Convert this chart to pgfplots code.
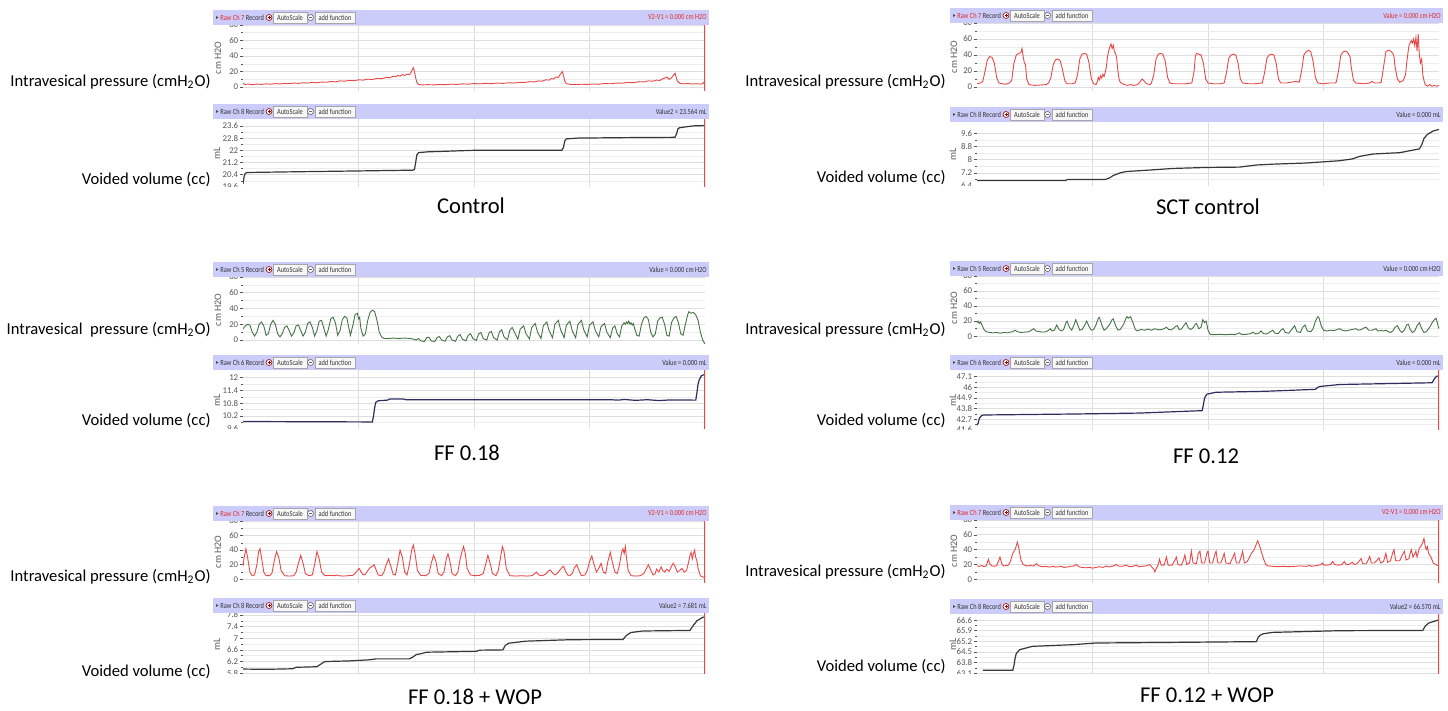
\documentclass[border=0pt]{standalone}
\usepackage{fontspec}
\setmainfont{Carlito}
\usepackage{graphicx}
\usepackage{pgfplots}
\pgfplotsset{compat=1.18}

\definecolor{hdrbg}{RGB}{204,204,250}
\definecolor{pred}{RGB}{232,72,72}
\definecolor{chred}{RGB}{225,40,40}
\definecolor{pgreen}{RGB}{70,115,70}
\definecolor{vdark}{RGB}{55,55,55}
\definecolor{vnavy}{RGB}{45,45,95}
\definecolor{gridc}{RGB}{222,222,222}
\definecolor{tickc}{RGB}{85,85,85}

\newcommand\hf{\fontsize{3.9}{4.2}\selectfont}
\newcommand\hs[1]{\scalebox{0.82}[1]{#1}}
\newcommand\lf{\fontsize{8.3}{10}\selectfont}
\newcommand\cf{\fontsize{11.3}{13}\selectfont}

\pgfplotsset{
  trace/.style={
    scale only axis, width=231pt,
    xmin=0, xmax=400, xtick={100,200,300}, xticklabels={},
    axis line style={draw=none},
    xmajorgrids=true, ymajorgrids=true, yminorgrids=true,
    minor y tick num=1,
    major grid style={draw=gridc, line width=0.35pt},
    minor grid style={draw=gridc!55, line width=0.3pt},
    xtick style={draw=none},
    ytick style={draw=tickc, line width=0.3pt},
    tick align=outside, tick pos=left,
    major tick length=1.6pt, minor tick length=0.8pt,
    yticklabel style={font=\fontsize{4.4}{5}\selectfont, text=tickc, inner sep=0.6pt},
    /pgf/number format/assume math mode=true,
    scaled y ticks=false,
  },
  pres/.style={trace, ymin=-5, ymax=80, ytick={0,20,40,60,80}},
  ptrace/.style={line width=0.45pt, mark=none},
  vtrace/.style={line width=0.6pt, mark=none},
  cursor/.style={draw=pred, line width=0.6pt, mark=none},
}

% header bar: x0, top, x1, channel colour, channel text, right text, right colour
\newcommand{\hdr}[7]{%
  \fill[hdrbg] (#1,#2) rectangle (#3,#2+15);
  \fill[black!70] (#1+3,#2+6) -- (#1+5.5,#2+7.5) -- (#1+3,#2+9) -- cycle;
  \node[font=\hf, anchor=west, inner sep=0, text=black!80] at (#1+7,#2+7.5) {\hs{\textcolor{#4}{#5} Record}};
  \draw[red!60!black, line width=0.3pt, fill=white] (#1+56,#2+7.5) circle (1.5pt);
  \draw[red!60!black, line width=0.3pt] (#1+54.5,#2+7.5) -- (#1+57.5,#2+7.5) (#1+56,#2+6) -- (#1+56,#2+9);
  \draw[gray!70, line width=0.3pt, fill=gray!6] (#1+60,#2+2) rectangle (#1+94,#2+13.5);
  \node[font=\hf, inner sep=0, text=black!80] at (#1+77,#2+7.7) {\hs{AutoScale}};
  \draw[black!60, line width=0.3pt, fill=white] (#1+97.5,#2+7.5) circle (1.5pt);
  \draw[black!60, line width=0.3pt] (#1+96,#2+7.5) -- (#1+99,#2+7.5);
  \draw[gray!70, line width=0.3pt, fill=gray!6] (#1+102,#2+2) rectangle (#1+142,#2+13.5);
  \node[font=\hf, inner sep=0, text=black!80] at (#1+122,#2+7.7) {\hs{add function}};
  \node[font=\hf, anchor=east, inner sep=0, text=#7] at (#3-2,#2+7.5) {\hs{#6}};
}

\begin{document}
\begin{tikzpicture}
\path (0,0) rectangle (724pt,355.5pt);

% ---------------- Control ----------------
\begin{axis}[pres, at={(121.5pt,310pt)}, height=33pt]
\addplot[pred, ptrace] coordinates {
(0,5)(1,4)(2,3.5)(5,3.8)(8,3.2)(12,3.9)(16,3.5)(20,4.2)(24,3.8)(28,4.5)(32,4.1)(36,4.8)(40,4.4)(44,5.2)(48,4.8)(52,5.6)(56,5.2)(60,6)(64,5.6)(68,6.5)(72,6.2)(76,7.2)(80,6.8)(84,8)(88,7.6)(92,8.6)(96,8.2)(100,9.4)(104,9)(108,10.2)(112,9.8)(116,11.2)(120,10.8)(124,12.5)(127,12)(130,14)(132,13.2)(134,15)(136,14.2)(138,16)(140,15)(142,16.8)(144,16)(145.5,19)(146.5,22)(147.5,25)(148.5,20)(149.5,12)(150.5,6)(152,3.5)(155,2.8)(160,3.2)(165,2.9)(170,3.4)(175,3.1)(180,3.8)(185,3.4)(190,4.2)(195,3.8)(200,4.6)(205,4.2)(210,4.8)(215,4.4)(220,5.2)(225,4.8)(230,5.6)(235,5.3)(240,6.2)(244,5.9)(248,7)(252,6.6)(256,8)(259,7.6)(262,9.4)(265,9)(267,11)(269,10.4)(271,13)(273,12.4)(274.5,16)(275.5,18)(276.5,20)(277.5,15)(278.5,8)(280,4.5)(283,3.6)(288,3.2)(293,3.7)(298,3.4)(303,4)(308,3.8)(313,4.6)(318,4.3)(323,5.2)(328,5)(333,6)(338,5.7)(343,7)(347,6.6)(351,8)(355,7.6)(358,9)(361,8.6)(363,10.5)(365,11.5)(367,13)(369,10)(371,12)(372.5,15)(374,18)(375,13)(376,8)(378,5)(381,4.2)(385,4.6)(389,4)(393,4.4)(396,3.8)(398,4.5)(399,6)(400,3)
};
\addplot[cursor] coordinates {(400,-5)(400,80)};
\end{axis}

\begin{axis}[trace, at={(121.5pt,262pt)}, height=34pt, ymin=19.6, ymax=24.05,
  ytick={19.6,20.4,21.2,22,22.8,23.6}]
\addplot[vdark, vtrace] coordinates {
(0,19.8)(1,20.3)(2,20.5)(4,20.55)(50,20.6)(100,20.65)(147,20.7)(148.5,20.75)(149.5,21.2)(150.5,21.7)(152,21.85)(160,21.9)(180,21.95)(200,22.0)(276,22.0)(277.5,22.2)(278.5,22.6)(280,22.75)(290,22.8)(330,22.83)(374,22.85)(375.5,23.1)(376.5,23.4)(378,23.48)(385,23.55)(390,23.6)(400,23.62)
};
\addplot[cursor] coordinates {(400,19.6)(400,24.05)};
\end{axis}

% ---------------- SCT control ----------------
\begin{axis}[pres, at={(488.5pt,310pt)}, height=34pt]
\addplot[pred, ptrace] coordinates {
(0,4)(3,5)(5,7)(7,20)(9,34)(11,38)(13,37)(15,30)(17,12)(19,5)(22,4)(25,3.5)(28,5)(30,8)(32,30)(34,40)(36,42)(38,43)(39,48)(40,38)(41,30)(42,28)(43,10)(45,3)(50,2)(55,2.5)(60,3)(62,5)(64,12)(66,28)(68,34)(70,35)(72,33)(74,22)(76,8)(78,4)(82,4)(85,5)(87,15)(89,35)(91,41)(93,42)(95,41)(97,30)(99,10)(101,4)(103,3)(104,6)(105,12)(106,9)(107,14)(108,11)(109,16)(110,13)(111,18)(112,25)(113,38)(114,45)(115,50)(116,54)(117,48)(118,52)(119,44)(120,42)(121,35)(122,20)(123,10)(124,6)(126,4)(128,3)(130,2)(133,3)(136,2)(139,3)(141,6)(143,10)(145,7)(147,4)(150,3)(151,5)(153,15)(155,35)(157,41)(159,42)(161,41)(163,32)(165,12)(167,5)(170,4)(175,4)(180,4)(186,5)(188,20)(189,38)(190,42)(192,41)(194,40)(196,30)(198,10)(200,5)(205,4)(210,4)(214,5)(216,18)(218,36)(220,40)(222,41)(224,40)(226,30)(228,10)(230,5)(235,4)(240,4)(247,5)(249,18)(251,36)(253,40)(255,41)(257,40)(259,30)(261,10)(263,5)(268,5)(272,6)(276,7)(279,6)(281,20)(283,40)(285,44)(287,46)(289,44)(291,32)(293,12)(295,5)(300,4)(305,5)(310,5)(311,6)(313,20)(315,40)(317,44)(319,45)(321,43)(323,38)(324,25)(326,8)(328,5)(335,4)(340,5)(342,7)(344,5)(348,5)(350,6)(352,25)(354,44)(356,46)(358,45)(360,42)(361,38)(362,25)(364,10)(366,6)(369,8)(371,15)(372,30)(374,52)(376,58)(377,55)(378,60)(379,52)(380,62)(381,45)(382,66)(383,40)(384,30)(385,35)(386,15)(387,8)(388,3)(390,1)(392,3)(394,1)(396,2)(398,1)(400,2)
};
\end{axis}

\begin{axis}[trace, at={(488.5pt,262.5pt)}, height=32pt, ymin=6.4, ymax=10.3,
  ytick={6.4,7.2,8,8.8,9.6}]
\addplot[vdark, vtrace] coordinates {
(0,6.73)(77,6.73)(78,6.79)(110,6.79)(112,6.82)(115,6.9)(118,7.04)(124,7.2)(129,7.28)(147,7.36)(170,7.47)(199,7.53)(227,7.55)(242,7.68)(256,7.73)(285,7.8)(314,7.94)(325,8.05)(331,8.2)(343,8.35)(366,8.43)(383,8.66)(385,8.9)(387,9.3)(390,9.55)(395,9.75)(400,9.85)
};
\end{axis}

% ---------------- FF 0.18 ----------------
\begin{axis}[pres, at={(121.5pt,183.5pt)}, height=33.5pt]
\addplot[pgreen, ptrace] coordinates {
(0,14)(2,18)(4,20)(6,19)(8,10)(10,5)(12,10)(14,20)(16,23)(18,18)(20,6)(22,8)(24,20)(26,25)(28,20)(30,8)(32,4)(34,8)(36,16)(38,18)(40,12)(42,5)(44,9)(46,18)(48,19)(50,12)(52,5)(54,10)(56,21)(58,23)(60,16)(62,5)(64,12)(66,24)(68,25)(70,15)(72,5)(74,14)(76,27)(78,29)(80,22)(82,6)(84,12)(86,26)(88,30)(90,28)(91,20)(93,6)(95,18)(97,32)(99,34)(100,27)(101,29)(102,15)(104,5)(106,8)(108,25)(110,35)(112,38)(114,36)(116,25)(118,10)(120,4)(122,2)(126,2)(130,2.5)(135,2)(140,2.5)(145,2)(148,1)
(150,0)(152,2)(154,-1)(157,-2)(159,3)(161,3.5)(163,-1)(166,-2)(168,3)(170,4.5)(172,0)(175,-1.5)(177,4)(179,5.5)(181,0)(184,-1.5)(186,5)(188,7)(190,1)(193,-1)(195,6)(197,8)(199,2)(202,-0.5)(204,8)(206,9.5)(208,2)(211,0)(213,9)(215,11)(217,3)(220,0)(222,10)(224,13)(226,4)(229,0.5)(231,12)(233,16)(235,10)(238,1)(240,14)(243,18)(245,8)(248,1.5)(250,16)(253,21)(255,10)(258,2)(260,18)(263,23)(265,12)(268,3)(270,20)(273,25)(275,13)(278,3)(280,19)(283,24)(285,12)(288,3)(290,20)(293,25)(295,13)(298,4)(300,19)(303,23)(305,12)(308,4)(310,17)(313,21)(315,10)(318,3)(320,15)(322,18)(324,8)(326,4)(328,18)(330,22)(331,20)(332,23)(333,21)(334,24)(335,20)(336,22)(337,19)(338,21)(339,15)(341,6)(343,5)(345,20)(347,28)(349,30)(351,26)(353,10)(355,4)(357,8)(359,24)(361,28)(363,29)(365,20)(367,6)(369,5)(371,22)(373,28)(375,30)(377,22)(379,8)(381,6)(383,20)(385,32)(386,36)(388,34)(390,35)(392,32)(394,25)(396,10)(398,0)(400,-5)
};
\end{axis}

\begin{axis}[trace, at={(121.5pt,141pt)}, height=29.5pt, ymin=9.6, ymax=12.36,
  ytick={9.6,10.2,10.8,11.4,12}]
\addplot[vnavy, vtrace] coordinates {
(0,9.95)(112,9.93)(113,10.2)(114,10.6)(115,10.85)(117,10.92)(125,10.95)(127,11.0)(139,11.0)(141,10.97)(200,10.97)(318,10.97)(325,10.95)(330,10.98)(340,10.94)(350,10.97)(360,10.93)(370,10.96)(392,10.95)(393,11.3)(394,11.7)(395,11.9)(397,12.1)(400,12.15)
};
\addplot[cursor] coordinates {(400,9.6)(400,12.36)};
\end{axis}

% ---------------- FF 0.12 ----------------
\begin{axis}[pres, at={(488.5pt,185.5pt)}, height=32pt]
\addplot[pgreen, ptrace] coordinates {
(0,18)(1,20)(2,17)(3,19)(4,16)(6,9)(8,6)(11,5)(14,4.5)(17,5)(20,4)(23,5)(26,4.5)(29,5.5)(31,6)(33,8)(35,6)(38,5)(42,5.5)(45,6)(47,8)(49,10)(51,7)(54,6)(57,5.5)(60,6)(62,8)(63.5,10)(65,7)(67,8)(69,15)(71,9)(73,7)(75,9)(77,18)(78,20)(80,12)(82,8)(84,15)(85.5,22)(87,16)(89,8)(91,9)(93,14)(95,20)(97,13)(99,8)(101,9)(103,15)(105,24)(106,25)(108,15)(110,8)(112,10)(115,16)(117,22)(118,23)(120,14)(122,8)(124,9)(127,16)(129,24)(130,26)(131,24)(133,26)(135,18)(137,9)(139,7)(142,9)(145,8)(148,9.5)(151,8)(154,10)(157,8.5)(160,9)(162,10)(164,12)(166,9)(168,8.5)(170,10)(172,13)(173.5,14)(175,9)(177,9.5)(179,14)(181,18)(183,11)(185,9)(187,11)(189,16)(190,17)(192,10)(194,12)(195.5,22)(197,18)(198.5,20)(200,8)(202,2.5)(205,2)(210,2.5)(215,2)(220,2.5)(223,2)(225,3)(227,4.5)(229,2.5)(233,2.5)(237,3.5)(239,5.5)(241,3)(244,4)(246,7)(248,3.5)(251,3)(254,6)(256,8)(258,4)(261,3.5)(263,8)(265,10)(267,5)(270,4)(273,10)(275,14)(277,6)(280,5)(282,12)(284,15)(286,7)(289,6)(291,10)(293,20)(295,26)(296,25)(298,14)(300,8)(303,7)(306,8)(309,7.5)(312,9)(314,10)(316,8)(319,7)(322,8)(325,9)(328,10)(330,8)(333,9)(335,11)(337,12)(339,8)(342,8)(344,9)(345.5,10)(347,7)(350,7.5)(352,7)(354,8)(356,6)(358,5)(360,7)(362,12)(364,14)(366,8)(368,5)(370,8)(372,15)(373.5,16)(375,9)(377,5)(379,7)(381,14)(383,18)(385,10)(387,5)(389,6)(392,12)(394,18)(396,22)(397.5,24)(399,15)(400,10)
};
\end{axis}

\begin{axis}[trace, at={(488.5pt,140.5pt)}, height=30pt, ymin=41.6, ymax=47.8,
  ytick={41.6,42.7,43.8,44.9,46,47.1}]
\addplot[vnavy, vtrace] coordinates {
(0,42.1)(1,42.3)(2,42.8)(4,43.1)(6,43.15)(83,43.25)(141,43.35)(195,43.6)(196,44.2)(197,44.9)(199,45.3)(207,45.5)(250,45.6)(293,45.8)(295,46.0)(297,46.1)(314,46.3)(394,46.48)(396,46.9)(398,47.15)(400,47.2)
};
\addplot[cursor] coordinates {(400,41.6)(400,47.8)};
\end{axis}

% ---------------- FF 0.18 + WOP ----------------
\begin{axis}[pres, at={(121.5pt,64pt)}, height=31pt]
\addplot[pred, ptrace] coordinates {
(0,18)(1,30)(2.5,42)(4,30)(6,10)(8,5)(10,6)(12,20)(13.5,38)(14.7,42)(16,30)(18,10)(20,5)(23,5)(25,8)(27,25)(29,38)(31,30)(33,12)(36,5)(40,4.5)(44,5)(46,10)(48,22)(50,33)(52,22)(54,8)(57,5)(60,6)(62,20)(64,38)(66,28)(68,10)(71,5)(75,5.5)(79,5)(81,6)(83,5)(87,4.5)(91,5)(95,5.5)(97,8)(99,12)(100.5,15)(102,11)(104,6)(106,7)(108,12)(110,16)(112,18)(113.5,20)(115,14)(117,6)(120,5)(122,10)(124,20)(126,28)(128,18)(130,7)(132,6)(134,22)(136,40)(138,30)(140,10)(142,6)(144,20)(146,40)(147.5,47)(149,35)(151,12)(154,5.5)(158,5)(161,8)(163,22)(165,33)(167,25)(169,8)(172,5)(174,10)(176,28)(177.5,35)(179,26)(181,8)(184,5)(186,10)(188,28)(190,40)(191,45)(192.5,35)(194,15)(197,6)(201,5)(205,5.5)(208,8)(210,20)(212,33)(214,22)(216,8)(219,5)(221,12)(223,30)(224.5,45)(226,38)(228,15)(231,5)(236,4.5)(241,5)(246,4.5)(250,5)(252,7)(254,10)(256,6)(259,5)(262,7)(264,11)(266,13)(268,9)(270,6)(272,8)(274,12)(276,16)(277.5,18)(279,12)(281,6)(283,5)(285,8)(287,16)(289,20)(291,12)(293,5)(296,6)(298,12)(300,24)(302,32)(304,20)(306,10)(308,15)(310,22)(312,10)(314,8)(316,25)(318,37)(320,22)(322,10)(324,8)(326,20)(327,30)(328,38)(329,42)(330,35)(331,45)(332,30)(333.5,12)(336,5)(340,4.5)(344,5)(347,8)(349,14)(351,20)(353,13)(355,6)(357,8)(358,14)(360,10)(362,17)(363.5,12)(365,10)(367,14)(369,11)(371,18)(372.5,22)(374,18)(376,10)(378,12)(380,15)(382,10)(384,12)(386,25)(387,33)(388,37)(389,28)(390,35)(391,40)(392,30)(393,25)(394,15)(396,5)(398.5,3)(400,3)
};
\addplot[cursor] coordinates {(400,-5)(400,80)};
\end{axis}

\begin{axis}[trace, at={(121.5pt,18.5pt)}, height=30.5pt, ymin=5.77, ymax=7.87,
  ytick={5.8,6.2,6.6,7,7.4,7.8}]
\addplot[vdark, vtrace] coordinates {
(0,5.94)(20,5.93)(43,5.95)(46,6.0)(64,6.02)(67,6.1)(70,6.18)(72,6.2)(92,6.22)(110,6.26)(115,6.29)(144,6.29)(147,6.35)(150,6.44)(153,6.46)(159,6.52)(202,6.55)(205,6.59)(225,6.6)(227,6.75)(230,6.83)(245,6.9)(283,6.95)(329,6.96)(332,7.1)(336,7.2)(346,7.25)(387,7.27)(390,7.45)(393,7.6)(398,7.72)(400,7.74)
};
\addplot[cursor] coordinates {(400,5.77)(400,7.87)};
\end{axis}

% ---------------- FF 0.12 + WOP ----------------
\begin{axis}[pres, at={(488.5pt,64pt)}, height=31.5pt]
\addplot[pred, ptrace] coordinates {
(0,18)(2,17.5)(4,18.5)(6,17)(8,18)(9,23)(9.8,27)(11,21)(13,18)(15,17.5)(17,18.5)(18.5,24)(19.9,30)(21.5,21)(23,18)(25,18.5)(27,19)(29,24)(30,30)(31,35)(32,38)(33,40)(34,45)(35,50)(36,44)(37,35)(38,26)(40,20)(43,18)(46,18.5)(49,18)(50.5,20)(51.6,21)(53,18.5)(56,17)(59,17.5)(62,16.5)(65,17)(66,17.5)(68,16.5)(71,17)(73,17.5)(75,16)(78,16.5)(81,17.5)(84,18)(86,20)(88,17)(91,16)(94,15.5)(97.7,16)(100,15)(103,16)(106,17)(109,16)(112,18)(114,16.5)(117,17.5)(119,18.5)(120.7,20)(122,18)(125,17.5)(127,18)(129,19)(131,17.5)(134,17)(136,18)(138,19)(140,17)(143,17.5)(146,18)(148,19)(149.6,20)(151,17)(153,14)(154,10)(155,14)(156.5,18)(158,27)(159.5,19)(162,19)(164,30)(165.5,19)(169,19)(171,25)(172.6,30)(174,20)(177,19)(179,27)(180,33)(181.5,20)(184,22)(185.6,38)(187,22)(190,21)(191.5,34)(193,38)(194.5,22)(197,22)(199,35)(200,38)(201.5,22)(204,22)(206,34)(207,38)(208.5,22)(211,22)(213,30)(214,35)(215.5,22)(219,21)(221,28)(223,35)(224.5,22)(227,22)(229,32)(230,38)(231.5,22)(234,24)(236,30)(238,36)(240,40)(241.5,46)(243,52)(244.5,46)(246,38)(248,28)(250,20)(252,18)(256,17.5)(260,17)(265,17.5)(270,17)(275,17.5)(280,18)(285,17.5)(287,18)(288,19)(289.5,17.5)(292,18)(296,19)(298,20)(299,22)(300.5,19)(303,19)(306,20)(308,24)(309.5,20)(313,19)(316,20)(318,24)(319.5,20)(322,20)(324,22)(325,23)(326.5,20)(329,21)(331,25)(332.6,28)(334,21)(337,21)(339,27)(340,31)(341.5,22)(344,22)(346,25)(348,29)(349.5,22)(352,24)(354,35)(355.5,23)(358,25)(360,36)(361,40)(362.5,25)(366,25)(368,32)(370,38)(371.5,26)(374,28)(375,35)(376,40)(377.5,30)(379,34)(380,38)(381,30)(383,42)(384.5,45)(386,50)(387,55)(388,45)(389,40)(390,44)(391,35)(393,30)(395,22)(397,20)(400,18)
};
\addplot[cursor] coordinates {(400,-5)(400,80)};
\end{axis}

\begin{axis}[trace, at={(488.5pt,18.5pt)}, height=30pt, ymin=63.05, ymax=67.0,
  ytick={63.1,63.8,64.5,65.2,65.9,66.6}]
\addplot[vdark, vtrace] coordinates {
(5,63.3)(31,63.3)(32,63.6)(33,64.1)(34,64.4)(37,64.65)(48,64.87)(83,64.98)(103,65.09)(170,65.13)(242,65.18)(243,65.4)(245,65.6)(248,65.7)(256,65.79)(314,65.9)(386,65.92)(388,66.2)(391,66.4)(395,66.5)(400,66.62)
};
\addplot[cursor] coordinates {(400,63.05)(400,67.0)};
\end{axis}

% ---------------- headers, labels, captions (pixel grid) ----------------
\begin{scope}[x=0.5pt, y=-0.5pt, shift={(0pt,355.5pt)}]
  % cut the lowest volume tick labels as in the screenshots
  \fill[white] (213,187) rectangle (709,193);
  \fill[white] (950,186) rectangle (1443,192);
  \fill[white] (213,429) rectangle (709,435);
  \fill[white] (950,430) rectangle (1443,436);
  \fill[white] (213,674) rectangle (709,680);
  \fill[white] (950,674) rectangle (1443,680);

  \hdr{213}{10}{709}{chred}{Raw Ch 7}{V2-V1 = 0.000 cm H2O}{chred}
  \hdr{213}{104}{709}{black!80}{Raw Ch 8}{Value2 = 23.564 mL}{black!80}
  \hdr{950}{8}{1443}{chred}{Raw Ch 7}{Value = 0.000 cm H2O}{chred}
  \hdr{950}{107}{1443}{black!80}{Raw Ch 8}{Value = 0.000 mL}{black!80}
  \hdr{213}{262}{709}{black!80}{Raw Ch 5}{Value = 0.000 cm H2O}{black!80}
  \hdr{213}{355}{709}{black!80}{Raw Ch 6}{Value = 0.000 mL}{black!80}
  \hdr{950}{261}{1443}{black!80}{Raw Ch 5}{Value = 0.000 cm H2O}{black!80}
  \hdr{950}{355}{1443}{black!80}{Raw Ch 6}{Value = 0.000 mL}{black!80}
  \hdr{213}{506}{709}{chred}{Raw Ch 7}{V2-V1 = 0.000 cm H2O}{chred}
  \hdr{213}{598}{709}{black!80}{Raw Ch 8}{Value2 = 7.681 mL}{black!80}
  \hdr{950}{505}{1443}{chred}{Raw Ch 7}{V2-V1 = 0.000 cm H2O}{chred}
  \hdr{950}{599}{1443}{black!80}{Raw Ch 8}{Value2 = 66.570 mL}{black!80}

  % rotated unit labels
  \foreach \xx/\yy in {218/58, 954/57, 218/310, 954/308, 218/552, 954/551}
    \node[rotate=90, font=\fontsize{5}{6}\selectfont, text=black!65, inner sep=0] at (\xx,\yy) {cm H2O};
  \foreach \xx/\yy in {217/153, 953/154, 217/400, 953/400, 217/644, 953/644}
    \node[rotate=90, font=\fontsize{5}{6}\selectfont, text=black!65, inner sep=0] at (\xx,\yy) {mL};

  % row labels
  \begin{scope}[every node/.style={anchor=east, font=\lf, inner sep=0}]
    \node at (211,82) {Intravesical pressure (cmH\textsubscript{2}O)};
    \node at (211,180) {Voided volume (cc)};
    \node at (946,82) {Intravesical pressure (cmH\textsubscript{2}O)};
    \node at (946,178) {Voided volume (cc)};
    \node at (211,330) {Intravesical\ \ pressure (cmH\textsubscript{2}O)};
    \node at (211,421) {Voided volume (cc)};
    \node at (946,330) {Intravesical pressure (cmH\textsubscript{2}O)};
    \node at (946,421) {Voided volume (cc)};
    \node at (211,577) {Intravesical pressure (cmH\textsubscript{2}O)};
    \node at (211,672) {Voided volume (cc)};
    \node at (946,572) {Intravesical pressure (cmH\textsubscript{2}O)};
    \node at (946,667) {Voided volume (cc)};
  \end{scope}

  % captions
  \begin{scope}[every node/.style={font=\cf, inner sep=0}]
    \node at (471,206) {Control};
    \node at (1208,207) {SCT control};
    \node at (467,453) {FF 0.18};
    \node at (1206,456) {FF 0.12};
    \node at (475,697) {FF 0.18 + WOP};
    \node at (1207,695) {FF 0.12 + WOP};
  \end{scope}
\end{scope}
\end{tikzpicture}
\end{document}
